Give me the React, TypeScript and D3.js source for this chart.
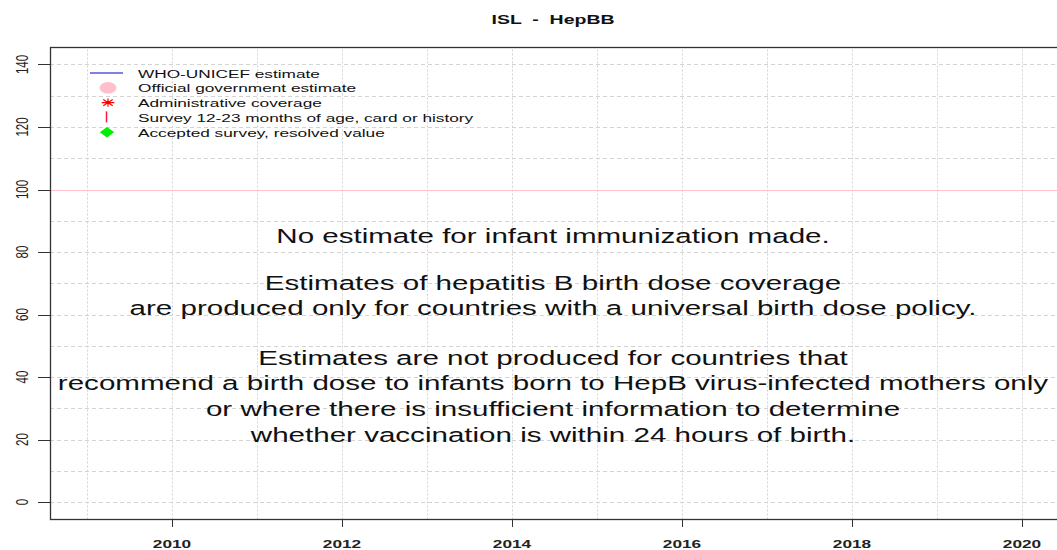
import React, { useEffect, useRef } from "react";
import * as d3 from "d3";

const title = "ISL  -  HepBB";
const yTicks = [0, 20, 40, 60, 80, 100, 120, 140];
const yGrid = [0, 10, 20, 30, 40, 50, 60, 70, 80, 90, 100, 110, 120, 130, 140];
const xTicks = [2010, 2012, 2014, 2016, 2018, 2020];
const xGrid = [2009, 2010, 2011, 2012, 2013, 2014, 2015, 2016, 2017, 2018, 2019, 2020, 2021];
const targetLine = 100;
const legendItems = [
    "WHO-UNICEF estimate",
    "Official government estimate",
    "Administrative coverage",
    "Survey 12-23 months of age, card or history",
    "Accepted survey, resolved value"
];
const noteLines = [
    "No estimate for infant immunization made.",
    "",
    "Estimates of hepatitis B birth dose coverage",
    "are produced only for countries with a universal birth dose policy.",
    "",
    "Estimates are not produced for countries that",
    "recommend a birth dose to infants born to HepB virus-infected mothers only",
    "or where there is insufficient information to determine",
    "whether vaccination is within 24 hours of birth."
];
// y value (in data units) of each note line's centre
const noteY = [85, 0, 70, 62.2, 0, 46.2, 38, 29.8, 21.6];

const W = 1057;
const H = 550;
const SX = 1.5; // the picture is stretched sideways

export default function App() {
    const svgRef: any = useRef();

    useEffect(() => {
        const svg = d3.select(svgRef.current);
        svg.selectAll("*").remove();

        const x = d3.scaleLinear().domain([2008.565, 2021.5]).range([50, 1149.5]);
        const y = d3.scaleLinear().domain([-5.6, 145.6]).range([519.5, 47]);
        const font = "'Liberation Sans', Arial, sans-serif";

        // grid
        const grid = svg.append("g");
        grid.selectAll(".hg")
            .data(yGrid)
            .join("line")
            .attr("x1", 50)
            .attr("x2", W)
            .attr("y1", (d) => Math.round(y(d)) + 0.5)
            .attr("y2", (d) => Math.round(y(d)) + 0.5)
            .attr("stroke", "#d3d3d3")
            .attr("stroke-dasharray", "4,3");
        grid.selectAll(".vg")
            .data(xGrid)
            .join("line")
            .attr("x1", (d) => Math.round(x(d)) + 0.5)
            .attr("x2", (d) => Math.round(x(d)) + 0.5)
            .attr("y1", y(-5.6))
            .attr("y2", y(145.6))
            .attr("stroke", "#d3d3d3")
            .attr("stroke-dasharray", "2,2");

        // 100 line
        svg.append("line")
            .attr("x1", 50)
            .attr("x2", W)
            .attr("y1", Math.round(y(targetLine)) + 0.5)
            .attr("y2", Math.round(y(targetLine)) + 0.5)
            .attr("stroke", "#ffc0cb")
            .attr("stroke-width", 1);

        // box
        svg.append("rect")
            .attr("x", 50.5)
            .attr("y", 47.5)
            .attr("width", 1110)
            .attr("height", 472)
            .attr("fill", "none")
            .attr("stroke", "#333")
            .attr("stroke-width", 1.3);

        // axes
        const yAxis = svg.append("g");
        yAxis.selectAll("line")
            .data(yTicks)
            .join("line")
            .attr("x1", 38)
            .attr("x2", 50)
            .attr("y1", (d) => Math.round(y(d)) + 0.5)
            .attr("y2", (d) => Math.round(y(d)) + 0.5)
            .attr("stroke", "#333");
        yAxis.selectAll("text")
            .data(yTicks)
            .join("text")
            .attr("transform", (d) => `translate(28, ${y(d)}) scale(${SX},1) rotate(-90)`)
            .attr("text-anchor", "middle")
            .attr("font-family", font)
            .attr("font-size", 11.5)
            .attr("fill", "#222")
            .text((d) => d);

        const xAxis = svg.append("g");
        xAxis.selectAll("line")
            .data(xTicks)
            .join("line")
            .attr("x1", (d) => Math.round(x(d)) + 0.5)
            .attr("x2", (d) => Math.round(x(d)) + 0.5)
            .attr("y1", 519)
            .attr("y2", 527)
            .attr("stroke", "#333");
        xAxis.selectAll("text")
            .data(xTicks)
            .join("text")
            .attr("transform", (d) => `translate(${x(d)}, 548) scale(${SX},1)`)
            .attr("text-anchor", "middle")
            .attr("font-family", font)
            .attr("font-size", 11.5)
            .attr("font-weight", "bold")
            .attr("fill", "#222")
            .text((d) => d);

        // title
        svg.append("text")
            .attr("transform", `translate(553, 24) scale(${SX},1)`)
            .attr("text-anchor", "middle")
            .attr("font-family", font)
            .attr("font-size", 13)
            .attr("font-weight", "bold")
            .attr("fill", "#111")
            .attr("xml:space", "preserve")
            .style("white-space", "pre")
            .text(title);

        // legend
        const lg = svg.append("g");
        const ly = (i: number) => 73 + i * 14.8;
        lg.selectAll("text")
            .data(legendItems)
            .join("text")
            .attr("transform", (d, i) => `translate(138, ${ly(i) + 4.5}) scale(${SX},1)`)
            .attr("font-family", font)
            .attr("font-size", 11.5)
            .attr("fill", "#111")
            .text((d) => d);
        lg.append("line")
            .attr("x1", 90).attr("x2", 123)
            .attr("y1", ly(0)).attr("y2", ly(0))
            .attr("stroke", "#0000cd");
        lg.append("ellipse")
            .attr("cx", 108).attr("cy", ly(1)).attr("rx", 8.5).attr("ry", 5.8)
            .attr("fill", "#ffc0cb");
        const s = 4.2;
        lg.append("path")
            .attr("d", `M${-s * SX},0H${s * SX}M0,${-s}V${s}M${-s * 0.75 * SX},${-s * 0.75}L${s * 0.75 * SX},${s * 0.75}M${-s * 0.75 * SX},${s * 0.75}L${s * 0.75 * SX},${-s * 0.75}`)
            .attr("transform", `translate(108, ${ly(2)})`)
            .attr("stroke", "red")
            .attr("stroke-width", 1.2)
            .attr("fill", "none");
        lg.append("line")
            .attr("x1", 106.5).attr("x2", 106.5)
            .attr("y1", ly(3) - 6).attr("y2", ly(3) + 5)
            .attr("stroke", "#ff1744").attr("stroke-width", 1.5);
        lg.append("path")
            .attr("d", d3.symbol(d3.symbolSquare, 56)())
            .attr("transform", `translate(107, ${ly(4)}) scale(${SX * 0.9},1) rotate(45)`)
            .attr("fill", "#00ee00");

        // note text
        svg.append("g")
            .selectAll("text")
            .data(noteLines.map((t, i) => ({ t, v: noteY[i] })).filter((d) => d.t))
            .join("text")
            .attr("transform", (d) => `translate(553, ${y(d.v) + 7}) scale(${SX},1)`)
            .attr("text-anchor", "middle")
            .attr("font-family", font)
            .attr("font-size", 19.7)
            .attr("fill", "#111")
            .text((d) => d.t);
    }, []);

    return (
        <svg ref={svgRef} width={W} height={H} style={{ position: "absolute", left: 0, top: 0, background: "#fff" }} />
    );
}
